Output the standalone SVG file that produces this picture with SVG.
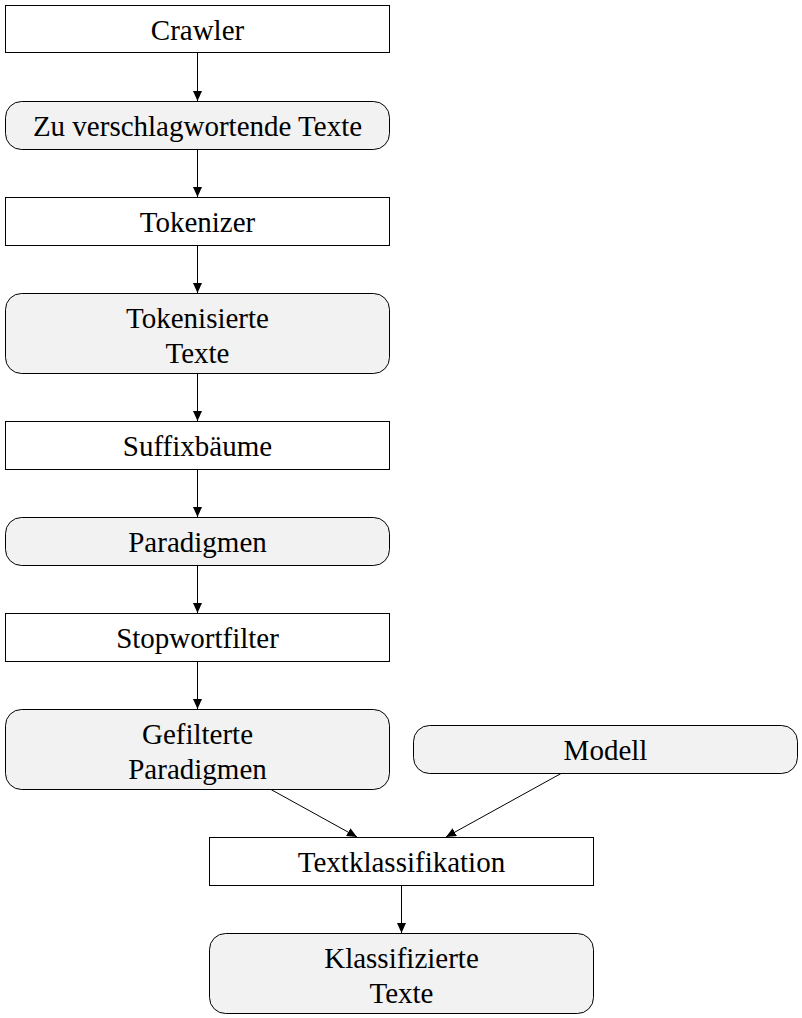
<svg xmlns="http://www.w3.org/2000/svg" width="802" height="1018" viewBox="0 0 802 1018">
<style>
.box{fill:#ffffff;stroke:#000;stroke-width:1}
.rnd{fill:#f2f2f2;stroke:#000;stroke-width:1}
.lbl{font-family:"Liberation Serif","Times New Roman",serif;font-size:29px;text-anchor:middle;fill:#000}
.edge{stroke:#000;stroke-width:1;fill:none;marker-end:url(#ah)}
</style>
<defs>
<marker id="ah" viewBox="0 0 10 9" refX="10" refY="4.5" markerWidth="10" markerHeight="9" markerUnits="userSpaceOnUse" orient="auto">
<path d="M0,0 L10,4.5 L0,9 z" fill="#000"/>
</marker>
</defs>
<rect width="802" height="1018" fill="#fff"/>
<g id="connectors">
<line class="edge" x1="197.5" y1="52.5" x2="197.5" y2="101"/>
<line class="edge" x1="197.5" y1="149.5" x2="197.5" y2="197"/>
<line class="edge" x1="197.5" y1="245.5" x2="197.5" y2="293"/>
<line class="edge" x1="197.5" y1="373.5" x2="197.5" y2="421"/>
<line class="edge" x1="197.5" y1="469.5" x2="197.5" y2="517"/>
<line class="edge" x1="197.5" y1="565.5" x2="197.5" y2="613"/>
<line class="edge" x1="197.5" y1="661.5" x2="197.5" y2="709"/>
<line class="edge" x1="271" y1="789.5" x2="357" y2="837"/>
<line class="edge" x1="561" y1="773.5" x2="446" y2="837"/>
<line class="edge" x1="401.5" y1="885.5" x2="401.5" y2="933"/>
</g>
<g id="crawler"><rect class="box" x="5.5" y="5.5" width="384" height="47"/><text class="lbl" x="197.5" y="40">Crawler</text></g>
<g id="zu-verschlagwortende-texte"><rect class="rnd" x="5.5" y="101.5" width="384" height="48" rx="16"/><text class="lbl" x="197.5" y="136">Zu verschlagwortende Texte</text></g>
<g id="tokenizer"><rect class="box" x="5.5" y="197.5" width="384" height="48"/><text class="lbl" x="197.5" y="232">Tokenizer</text></g>
<g id="tokenisierte-texte"><rect class="rnd" x="5.5" y="293.5" width="384" height="80" rx="16"/><text class="lbl" x="197.5" y="328">Tokenisierte</text><text class="lbl" x="197.5" y="363">Texte</text></g>
<g id="suffixbaeume"><rect class="box" x="5.5" y="421.5" width="384" height="48"/><text class="lbl" x="197.5" y="456">Suffixbäume</text></g>
<g id="paradigmen"><rect class="rnd" x="5.5" y="517.5" width="384" height="48" rx="16"/><text class="lbl" x="197.5" y="552">Paradigmen</text></g>
<g id="stopwortfilter"><rect class="box" x="5.5" y="613.5" width="384" height="48"/><text class="lbl" x="197.5" y="648">Stopwortfilter</text></g>
<g id="gefilterte-paradigmen"><rect class="rnd" x="5.5" y="709.5" width="384" height="80" rx="16"/><text class="lbl" x="197.5" y="744">Gefilterte</text><text class="lbl" x="197.5" y="779">Paradigmen</text></g>
<g id="modell"><rect class="rnd" x="413.5" y="725.5" width="384" height="48" rx="16"/><text class="lbl" x="605.5" y="760">Modell</text></g>
<g id="textklassifikation"><rect class="box" x="209.5" y="837.5" width="384" height="48"/><text class="lbl" x="401.5" y="872">Textklassifikation</text></g>
<g id="klassifizierte-texte"><rect class="rnd" x="209.5" y="933.5" width="384" height="80" rx="16"/><text class="lbl" x="401.5" y="968">Klassifizierte</text><text class="lbl" x="401.5" y="1003">Texte</text></g>
</svg>
